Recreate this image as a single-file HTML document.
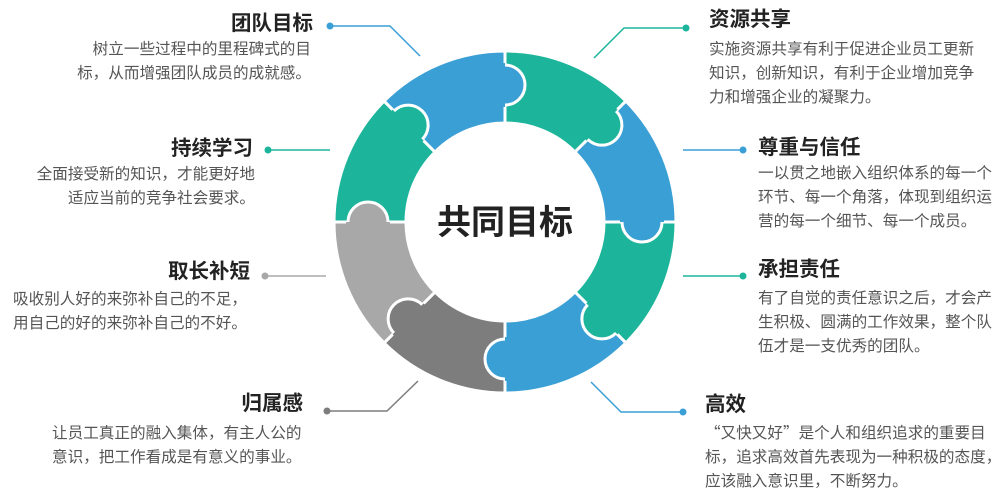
<!DOCTYPE html>
<html><head><meta charset="utf-8"><style>
body{margin:0;width:1008px;height:498px;background:#fff;position:relative;overflow:hidden;font-family:"Liberation Sans","Noto Sans CJK SC",sans-serif}
.t{position:absolute;font-size:20.5px;font-weight:bold;color:#222;white-space:nowrap;line-height:24px}
.b{position:absolute;font-size:15.6px;color:#555;white-space:nowrap;line-height:24.2px;font-family:"Noto Sans CJK SC",sans-serif}
.r{text-align:right}
</style></head><body>
<svg width="1008" height="498" style="position:absolute;left:0;top:0">
<g stroke="#fff" stroke-width="3">
<path d="M505,51 A171,171 0 0 1 625.9,101.1 L575,152 A99,99 0 0 0 505,123 Z" fill="#1cb59b"/>
<path d="M625.9,101.1 A171,171 0 0 1 676,222 L604,222 A99,99 0 0 0 575,152 Z" fill="#3a9fd5"/>
<path d="M676,222 A171,171 0 0 1 625.9,342.9 L575,292 A99,99 0 0 0 604,222 Z" fill="#1cb59b"/>
<path d="M625.9,342.9 A171,171 0 0 1 505,393 L505,321 A99,99 0 0 0 575,292 Z" fill="#3a9fd5"/>
<path d="M505,393 A171,171 0 0 1 384.1,342.9 L435,292 A99,99 0 0 0 505,321 Z" fill="#7d7d7d"/>
<path d="M384.1,342.9 A171,171 0 0 1 334,222 L406,222 A99,99 0 0 0 435,292 Z" fill="#a8a8a8"/>
<path d="M334,222 A171,171 0 0 1 384.1,101.1 L435,152 A99,99 0 0 0 406,222 Z" fill="#1cb59b"/>
<path d="M384.1,101.1 A171,171 0 0 1 505,51 L505,123 A99,99 0 0 0 435,152 Z" fill="#3a9fd5"/>
</g>
<g transform="rotate(0 505 222)"><circle cx="505" cy="85" r="20" fill="#3a9fd5" stroke="#fff" stroke-width="3"/><path d="M505,63 A22,22 0 0 0 505,107 Z" fill="#3a9fd5"/></g>
<g transform="rotate(45 505 222)"><circle cx="505" cy="85" r="20" fill="#1cb59b" stroke="#fff" stroke-width="3"/><path d="M505,63 A22,22 0 0 0 505,107 Z" fill="#1cb59b"/></g>
<g transform="rotate(90 505 222)"><circle cx="505" cy="85" r="20" fill="#3a9fd5" stroke="#fff" stroke-width="3"/><path d="M505,63 A22,22 0 0 0 505,107 Z" fill="#3a9fd5"/></g>
<g transform="rotate(135 505 222)"><circle cx="505" cy="85" r="20" fill="#1cb59b" stroke="#fff" stroke-width="3"/><path d="M505,63 A22,22 0 0 0 505,107 Z" fill="#1cb59b"/></g>
<g transform="rotate(180 505 222)"><circle cx="505" cy="85" r="20" fill="#3a9fd5" stroke="#fff" stroke-width="3"/><path d="M505,63 A22,22 0 0 0 505,107 Z" fill="#3a9fd5"/></g>
<g transform="rotate(225 505 222)"><circle cx="505" cy="85" r="20" fill="#7d7d7d" stroke="#fff" stroke-width="3"/><path d="M505,63 A22,22 0 0 0 505,107 Z" fill="#7d7d7d"/></g>
<g transform="rotate(270 505 222)"><circle cx="505" cy="85" r="20" fill="#a8a8a8" stroke="#fff" stroke-width="3"/><path d="M505,63 A22,22 0 0 0 505,107 Z" fill="#a8a8a8"/></g>
<g transform="rotate(315 505 222)"><circle cx="505" cy="85" r="20" fill="#1cb59b" stroke="#fff" stroke-width="3"/><path d="M505,63 A22,22 0 0 0 505,107 Z" fill="#1cb59b"/></g>
<g fill="none" stroke-width="1.5">
<polyline points="330,26 390,26 420,56" stroke="#3a9fd5"/>
<polyline points="686,28 624,28 594,58" stroke="#1cb59b"/>
<line x1="683" y1="150" x2="743" y2="150" stroke="#3a9fd5"/>
<line x1="683" y1="276" x2="743" y2="276" stroke="#1cb59b"/>
<polyline points="683,412 621,412 591,382" stroke="#3a9fd5"/>
<line x1="268" y1="150" x2="330" y2="150" stroke="#1cb59b"/>
<line x1="265" y1="276" x2="326" y2="276" stroke="#a8a8a8"/>
<polyline points="327,411 387,411 418,381" stroke="#7d7d7d"/>
</g>
<circle cx="330" cy="26" r="3.5" fill="#3a9fd5"/>
<circle cx="686" cy="28" r="3.5" fill="#1cb59b"/>
<circle cx="743" cy="150" r="3.5" fill="#3a9fd5"/>
<circle cx="743" cy="276" r="3.5" fill="#1cb59b"/>
<circle cx="683" cy="412" r="3.5" fill="#3a9fd5"/>
<circle cx="268" cy="150" r="3.5" fill="#1cb59b"/>
<circle cx="265" cy="276" r="3.5" fill="#a8a8a8"/>
<circle cx="327" cy="411" r="3.5" fill="#7d7d7d"/>
<text x="505" y="234" text-anchor="middle" font-size="34" font-weight="bold" fill="#222" font-family="Liberation Sans, Noto Sans CJK SC, sans-serif">共同目标</text>
</svg>

<div class="t r" style="right:695px;top:12px">团队目标</div>
<div class="b r" style="right:697px;top:36px">树立一些过程中的里程碑式的目<br>标，从而增强团队成员的成就感。</div>

<div class="t r" style="right:755px;top:137px">持续学习</div>
<div class="b r" style="right:753px;top:161px">全面接受新的知识，才能更好地<br>适应当前的竞争社会要求。</div>

<div class="t r" style="right:758px;top:260px">取长补短</div>
<div class="b" style="left:13px;top:286px">吸收别人好的来弥补自己的不足，<br>用自己的好的来弥补自己的不好。</div>

<div class="t r" style="right:705px;top:392px">归属感</div>
<div class="b" style="left:52px;top:420px">让员工真正的融入集体，有主人公的<br>意识，把工作看成是有意义的事业。</div>

<div class="t" style="left:709px;top:8px">资源共享</div>
<div class="b" style="left:709px;top:36px">实施资源共享有利于促进企业员工更新<br>知识，创新知识，有利于企业增加竞争<br>力和增强企业的凝聚力。</div>

<div class="t" style="left:758px;top:136px">尊重与信任</div>
<div class="b" style="left:758px;top:160px">一以贯之地嵌入组织体系的每一个<br>环节、每一个角落，体现到组织运<br>营的每一个细节、每一个成员。</div>

<div class="t" style="left:758px;top:258px">承担责任</div>
<div class="b" style="left:758px;top:285px">有了自觉的责任意识之后，才会产<br>生积极、圆满的工作效果，整个队<br>伍才是一支优秀的团队。</div>

<div class="t" style="left:705px;top:393px">高效</div>
<div class="b" style="left:705px;top:420px">“又快又好”是个人和组织追求的重要目<br>标，追求高效首先表现为一种积极的态度，<br>应该融入意识里，不断努力。</div>
</body></html>
